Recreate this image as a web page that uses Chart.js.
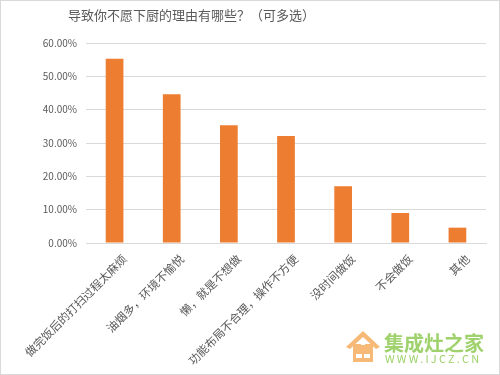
<!DOCTYPE html>
<html><head><meta charset="utf-8">
<script src="https://cdn.jsdelivr.net/npm/chart.js@4"></script>
<style>html,body{margin:0;padding:0;background:#fff}#wrap{width:500px;height:375px;position:relative}</style>
</head><body><div id="wrap"><canvas id="c" width="500" height="375"></canvas></div>
<script>
const titleText = '导致你不愿下厨的理由有哪些？（可多选）';
const categories = ['做完饭后的打扫过程太麻烦','油烟多，环境不愉悦','懒，就是不想做','功能布局不合理，操作不方便','没时间做饭','不会做饭','其他'];
const percentValues = [55.3, 44.6, 35.3, 32.1, 17.0, 9.0, 4.6];
const yTickMax = 60;
const yTickStep = 10;
const watermarkName = '集成灶之家';
const watermarkUrl = 'WWW.IJCZ.CN';

const FONT = '"Noto Sans CJK SC", "Microsoft YaHei", sans-serif';

const decor = {
  id: 'decor',
  beforeDraw(chart) {
    const ctx = chart.ctx;
    ctx.save();
    ctx.fillStyle = '#fff';
    ctx.fillRect(0, 0, 500, 375);
    ctx.strokeStyle = '#d9d9d9';
    ctx.lineWidth = 1;
    ctx.strokeRect(0.5, 0.5, 499, 374);
    ctx.restore();
  },
  afterDraw(chart) {
    const ctx = chart.ctx;
    ctx.save();
    ctx.fillStyle = '#595959';
    ctx.font = '13px ' + FONT;
    ctx.textBaseline = 'middle';
    ctx.textAlign = 'left';
    ctx.fillText(titleText, 68, 15);
    // watermark house
    ctx.fillStyle = '#f7b977';
    ctx.beginPath();
    ctx.moveTo(346, 347); ctx.lineTo(363, 331); ctx.lineTo(380, 347);
    ctx.lineTo(376, 349); ctx.lineTo(363, 337); ctx.lineTo(350, 349); ctx.closePath();
    ctx.fill();
    ctx.fillRect(353, 344, 20, 18);
    ctx.fillStyle = '#fff';
    ctx.fillRect(356, 354, 6, 4);
    ctx.fillRect(364, 354, 6, 4);
    ctx.fillRect(361, 341, 4, 4);
    ctx.fillStyle = '#9fd26c';
    ctx.font = 'bold 20px ' + FONT;
    ctx.fillText(watermarkName, 384, 343);
    ctx.font = '11px ' + FONT;
    if ('letterSpacing' in ctx) ctx.letterSpacing = '2.2px';
    ctx.fillText(watermarkUrl, 385, 359);
    ctx.restore();
  }
};

new Chart(document.getElementById('c'), {
  type: 'bar',
  data: {
    labels: categories,
    datasets: [{
      data: percentValues,
      backgroundColor: '#ED7D31',
      barPercentage: 0.31,
      categoryPercentage: 1.0
    }]
  },
  plugins: [decor],
  options: {
    responsive: false,
    animation: false,
    devicePixelRatio: 1,
    layout: { padding: { left: 0, right: 14, top: 43, bottom: 0 } },
    plugins: { legend: { display: false }, title: { display: false }, tooltip: { enabled: false } },
    scales: {
      x: {
        grid: { display: false },
        border: { display: true, color: '#d9d9d9' },
        ticks: {
          color: '#595959',
          font: { size: 11.5, family: FONT },
          minRotation: 45, maxRotation: 45,
          autoSkip: false,
          labelOffset: 10,
          padding: 1
        },
        afterFit(s) { s.height = 132; }
      },
      y: {
        min: 0, max: yTickMax,
        grid: { color: '#d9d9d9', drawTicks: false },
        border: { display: false },
        ticks: {
          stepSize: yTickStep,
          color: '#595959',
          font: { size: 10, family: FONT },
          padding: 9,
          callback: v => v.toFixed(2) + '%'
        },
        afterFit(s) { s.width = 86; }
      }
    }
  }
});
</script></body></html>
